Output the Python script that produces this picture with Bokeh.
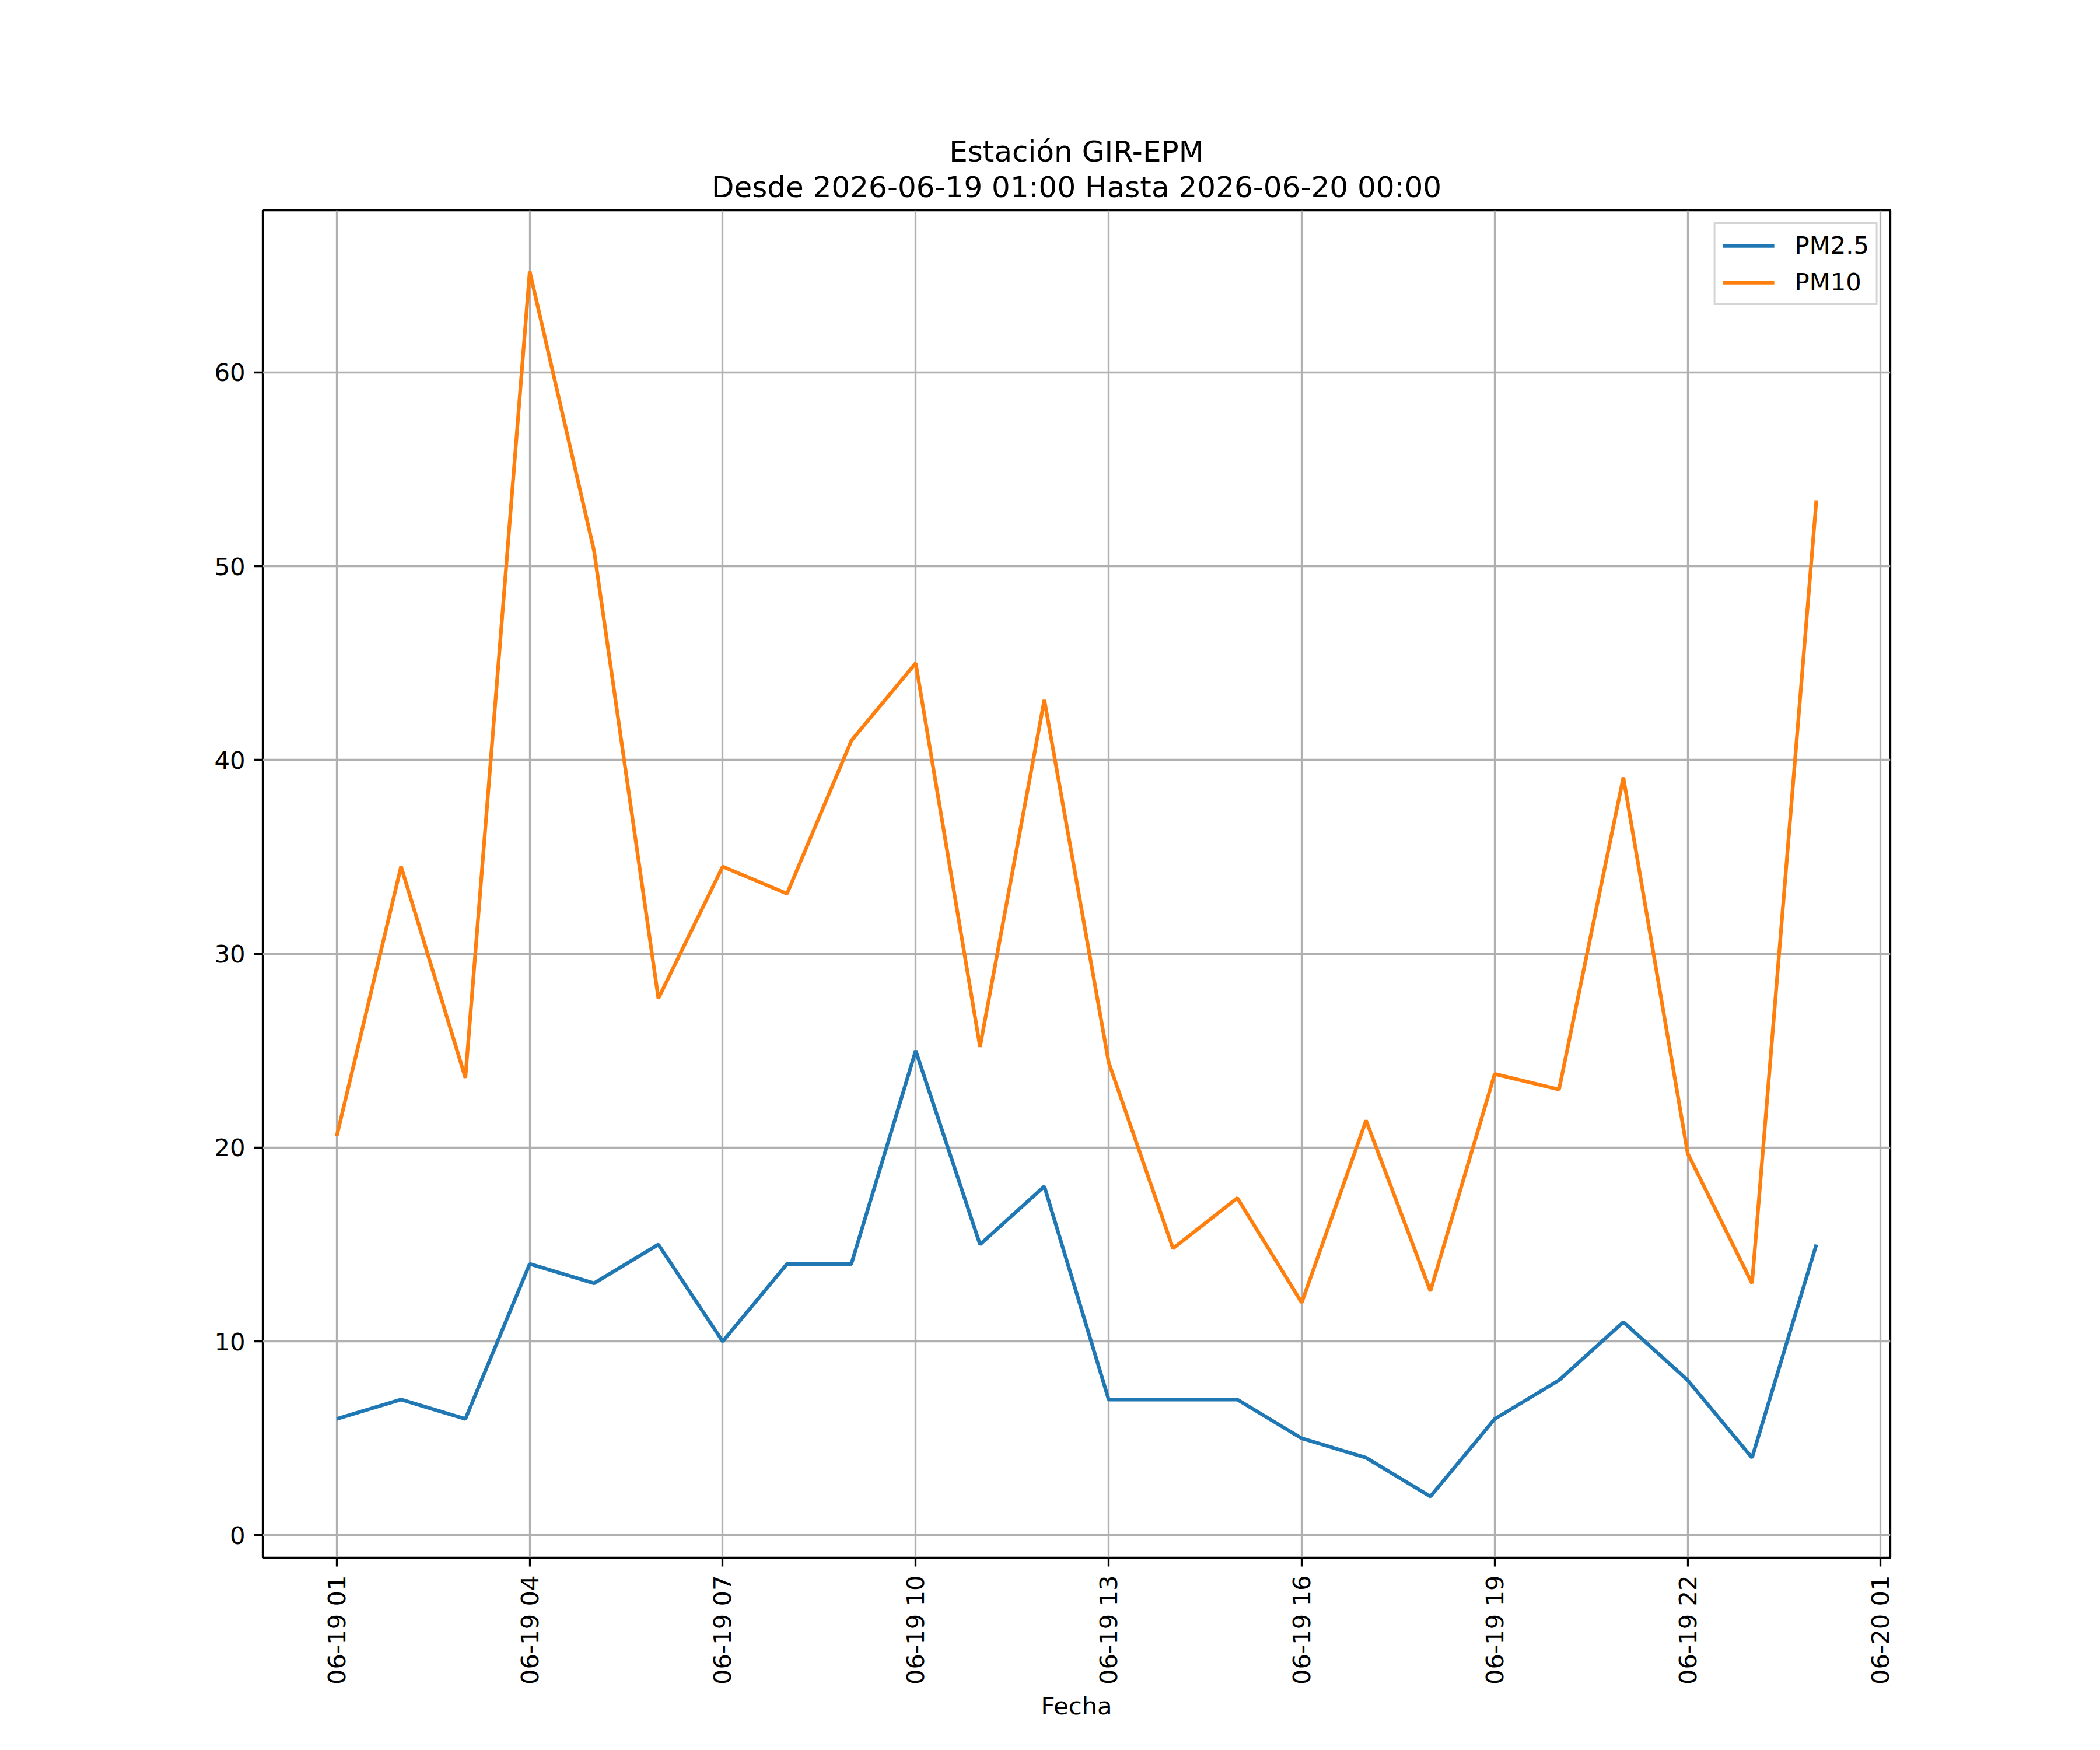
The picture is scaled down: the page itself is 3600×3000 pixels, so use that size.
import pandas as pd
import math
from bokeh.plotting import figure
from bokeh.models import (Range1d, FixedTicker, DatetimeTickFormatter, Title,
                          Legend, LegendItem, ColumnDataSource)
from bokeh.embed import file_html
from bokeh.resources import INLINE

# ---------------- data ----------------
fechas = [
    "2026-06-19 01:00", "2026-06-19 02:00", "2026-06-19 03:00", "2026-06-19 04:00",
    "2026-06-19 05:00", "2026-06-19 06:00", "2026-06-19 07:00", "2026-06-19 08:00",
    "2026-06-19 09:00", "2026-06-19 10:00", "2026-06-19 11:00", "2026-06-19 12:00",
    "2026-06-19 13:00", "2026-06-19 14:00", "2026-06-19 15:00", "2026-06-19 16:00",
    "2026-06-19 17:00", "2026-06-19 18:00", "2026-06-19 19:00", "2026-06-19 20:00",
    "2026-06-19 21:00", "2026-06-19 22:00", "2026-06-19 23:00", "2026-06-20 00:00",
]
pm25 = [6, 7, 6, 14, 13, 15, 10, 14, 14, 25, 15, 18,
        7, 7, 7, 5, 4, 2, 6, 8, 11, 8, 4, 15]
pm10 = [20.6, 34.5, 23.6, 65.2, 50.8, 27.7, 34.5, 33.1, 41.0, 45.0, 25.2, 43.1,
        24.4, 14.8, 17.4, 12.0, 21.4, 12.6, 23.8, 23.0, 39.1, 19.7, 13.0, 53.4]
x_ticks = ["2026-06-19 01:00", "2026-06-19 04:00", "2026-06-19 07:00",
           "2026-06-19 10:00", "2026-06-19 13:00", "2026-06-19 16:00",
           "2026-06-19 19:00", "2026-06-19 22:00", "2026-06-20 01:00"]
y_ticks = [0, 10, 20, 30, 40, 50, 60]
titulo = "Estación GIR-EPM"
subtitulo = "Desde 2026-06-19 01:00 Hasta 2026-06-20 00:00"
x_label = "Fecha"

# ---------------- build ----------------
t = pd.to_datetime(fechas)
src = ColumnDataSource(dict(t=t, pm25=pm25, pm10=pm10))

span = t[-1] - t[0]
x0, x1 = t[0] - span * 0.05, t[-1] + span * 0.05
ymin = min(min(pm25), min(pm10))
ymax = max(max(pm25), max(pm10))
ypad = (ymax - ymin) * 0.05

FONT = "DejaVu Sans"
p = figure(width=3584, height=2984, x_axis_type="datetime",
           output_backend="svg", toolbar_location=None, title=None,
           x_range=Range1d(x0, x1), y_range=Range1d(ymin - ypad, ymax + ypad),
           min_border_left=450, min_border_right=344,
           min_border_top=360, min_border_bottom=314,
           background_fill_color="white", border_fill_color="white")

l1 = p.line("t", "pm25", source=src, line_color="#1f77b4", line_width=6.25)
l2 = p.line("t", "pm10", source=src, line_color="#ff7f0e", line_width=6.25)

tick_ms = [int(v) for v in (pd.to_datetime(x_ticks).astype("int64") // 10**6)]
p.xaxis.ticker = FixedTicker(ticks=tick_ms)
fmt = "%m-%d %H"
p.xaxis.formatter = DatetimeTickFormatter(
    microseconds=fmt, milliseconds=fmt, seconds=fmt, minsec=fmt, minutes=fmt,
    hourmin=fmt, hours=fmt, days=fmt, months=fmt, years=fmt, context=None)
p.xaxis.major_label_orientation = math.pi / 2
p.yaxis.ticker = FixedTicker(ticks=y_ticks)
p.xaxis.axis_label = x_label

for ax in (p.xaxis, p.yaxis):
    ax.axis_line_color = None
    ax.major_tick_line_color = "black"
    ax.major_tick_line_width = 3.3
    ax.major_tick_out = 15
    ax.major_tick_in = 0
    ax.minor_tick_line_color = None
    ax.major_label_text_font = FONT
    ax.major_label_text_font_size = "41.7px"
    ax.major_label_text_color = "black"
    ax.major_label_standoff = 15
    ax.axis_label_text_font = FONT
    ax.axis_label_text_font_size = "41.7px"
    ax.axis_label_text_font_style = "normal"
    ax.axis_label_text_color = "black"
    ax.axis_label_standoff = 9

p.outline_line_color = "black"
p.outline_line_width = 3.3
p.outline_line_alpha = 1.0

for g in (p.xgrid, p.ygrid):
    g.grid_line_color = "#b0b0b0"
    g.grid_line_width = 3.3

# titles (first added sits closest to the frame)
p.add_layout(Title(text=subtitulo, align="center", text_font=FONT,
                   text_font_size="50px", text_font_style="normal",
                   text_color="black", standoff=22), "above")
p.add_layout(Title(text=titulo, align="center", text_font=FONT,
                   text_font_size="50px", text_font_style="normal",
                   text_color="black", standoff=-20), "above")

legend = Legend(items=[LegendItem(label="PM2.5", renderers=[l1]),
                       LegendItem(label="PM10", renderers=[l2])],
                location="top_right", margin=21, padding=12, spacing=14,
                label_standoff=35, glyph_width=89, glyph_height=42,
                label_height=42, label_text_font=FONT,
                label_text_font_size="41.7px", label_text_color="black",
                border_line_color="#d5d5d5", border_line_width=3.3,
                border_line_alpha=1.0, background_fill_alpha=0.8)
p.add_layout(legend)

open("out.html", "w").write(file_html(p, INLINE))
